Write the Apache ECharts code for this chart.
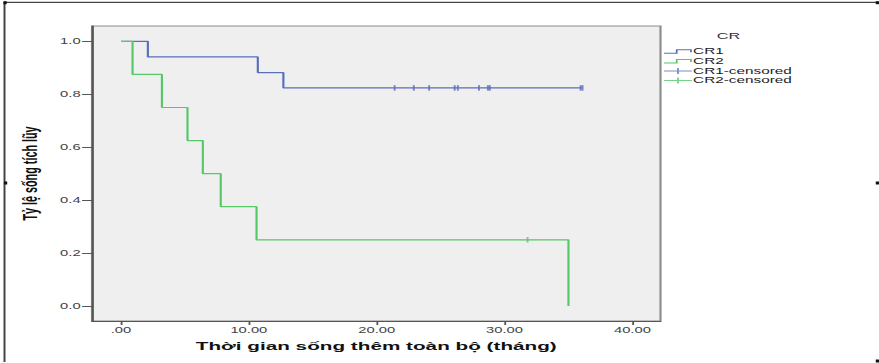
<!DOCTYPE html>
<html>
<head>
<meta charset="utf-8">
<title>Kaplan-Meier CR</title>
<script src="https://cdn.jsdelivr.net/npm/echarts@6/dist/echarts.min.js"></script>
<style>
  html, body { margin: 0; padding: 0; background: #ffffff; overflow: hidden; }
  #wrap { width: 879px; height: 363px; overflow: hidden; }
  /* The chart is laid out narrow and widened horizontally */
  #chart { width: 488px; height: 363px; transform-origin: 0 0; }
</style>
</head>
<body>
<div id="wrap"><div id="chart"></div></div>
<script>
// Survival steps (time in months, cumulative survival)
const cr1Times = [0, 2.1, 10.7, 12.7];
const cr1Surv = [1.0, 0.941, 0.882, 0.824];
const cr1Censored = [21.4, 22.9, 24.1, 26.1, 26.35, 28.0, 28.7, 28.85, 35.95, 36.1];

const cr2Times = [0, 0.9, 3.2, 5.2, 6.4, 7.8, 10.6, 35.0];
const cr2Surv = [1.0, 0.875, 0.75, 0.625, 0.5, 0.375, 0.25, 0.0];
const cr2Censored = [31.8];

const xTicks = [0, 10, 20, 30, 40];
const yTicks = [0, 0.2, 0.4, 0.6, 0.8, 1.0];

const seriesNames = ['CR1', 'CR2', 'CR1-censored', 'CR2-censored'];
const legendTitle = 'CR';
const xTitle = 'Thời gian sống thêm toàn bộ (tháng)';
const yTitle = 'Tỷ lệ sống tích lũy';

const SCALE_X = 879 / 488;
document.getElementById('chart').style.transform = 'scaleX(' + SCALE_X + ')';

const blue = '#5a6fbb';
const green = '#55c868';

function survivalAt(times, surv, t) {
  let s = surv[0];
  for (let i = 0; i < times.length; i++) {
    if (times[i] <= t) s = surv[i];
  }
  return s;
}

function stepData(times, surv, endTime) {
  const pts = times.map((t, i) => [t, surv[i]]);
  if (endTime != null && endTime > times[times.length - 1]) {
    pts.push([endTime, surv[surv.length - 1]]);
  }
  return pts;
}

const cr1Line = stepData(cr1Times, cr1Surv, Math.max.apply(null, cr1Censored));
const cr2Line = stepData(cr2Times, cr2Surv, null);
const cr1Marks = cr1Censored.map(t => [t, survivalAt(cr1Times, cr1Surv, t)]);
const cr2Marks = cr2Censored.map(t => [t, survivalAt(cr2Times, cr2Surv, t)]);

const stepIcon = 'path://M0,3.5L6.6,3.5L6.6,0L15.5,0L15.5,3L14.5,3L14.5,1L7.6,1L7.6,4.5L0,4.5Z';
const censorIcon = 'path://M0,2.5L7.3,2.5L7.3,0L8.3,0L8.3,2.5L15.5,2.5L15.5,3.5L8.3,3.5L8.3,6L7.3,6L7.3,3.5L0,3.5Z';

const font = '"Liberation Sans", Arial, sans-serif';
const frameColor = '#444444';

const chart = echarts.init(document.getElementById('chart'), null, { renderer: 'svg' });

chart.setOption({
  animation: false,
  backgroundColor: '#ffffff',
  textStyle: { fontFamily: font },
  title: {
    text: legendTitle,
    left: 397.9,
    top: 31,
    padding: 0,
    textStyle: { fontFamily: font, fontSize: 9, fontWeight: 'normal', color: '#333333' }
  },
  legend: {
    orient: 'vertical',
    left: 368.6,
    top: 47,
    padding: 0,
    itemGap: 0.7,
    itemWidth: 15.5,
    itemHeight: 6,
    selectedMode: false,
    itemStyle: { borderWidth: 0 },
    textStyle: { fontFamily: font, fontSize: 8.5, lineHeight: 9, color: '#222222', padding: [0, 0, 0, -4.3] },
    data: [
      { name: seriesNames[0], icon: stepIcon },
      { name: seriesNames[1], icon: stepIcon },
      { name: seriesNames[2], icon: censorIcon },
      { name: seriesNames[3], icon: censorIcon }
    ]
  },
  grid: {
    left: 51.08,
    right: 121.3,
    top: 26,
    bottom: 42,
    show: true,
    backgroundColor: '#efefef',
    borderColor: '#8c8c8c',
    borderWidth: 1.2
  },
  xAxis: {
    type: 'value',
    min: -2.27,
    max: 42.2,
    name: xTitle,
    nameLocation: 'middle',
    nameGap: 19.5,
    nameTextStyle: { fontFamily: font, fontSize: 11.5, fontWeight: 'bold', color: '#111111' },
    axisLine: { show: true, onZero: false, lineStyle: { color: '#555555', width: 1.2 } },
    axisTick: { show: true, length: 4, customValues: xTicks, lineStyle: { color: '#555555', width: 1 } },
    axisLabel: {
      customValues: xTicks,
      margin: 5.5,
      fontFamily: font,
      fontSize: 8.2,
      color: '#444444',
      formatter: v => (v === 0 ? '.00' : v.toFixed(2))
    },
    splitLine: { show: false }
  },
  yAxis: {
    type: 'value',
    min: -0.057,
    max: 1.058,
    name: yTitle,
    nameLocation: 'middle',
    nameGap: 20.5,
    nameTextStyle: { fontFamily: font, fontSize: 10.8, fontWeight: 'bold', color: '#111111' },
    axisLine: { show: true, onZero: false, lineStyle: { color: '#555555', width: 1.2 } },
    axisTick: { show: true, length: 5.5, customValues: yTicks, lineStyle: { color: '#555555', width: 1 } },
    axisLabel: {
      customValues: yTicks,
      margin: 6.3,
      fontFamily: font,
      fontSize: 8.2,
      color: '#444444',
      formatter: v => v.toFixed(1)
    },
    splitLine: { show: false }
  },
  series: [
    {
      name: seriesNames[0],
      type: 'line',
      step: 'end',
      data: cr1Line,
      showSymbol: false,
      color: blue,
      lineStyle: { color: blue, width: 1.2 },
      z: 2
    },
    {
      name: seriesNames[1],
      type: 'line',
      step: 'end',
      data: cr2Line,
      showSymbol: false,
      color: green,
      lineStyle: { color: green, width: 1.2 },
      z: 3
    },
    {
      name: seriesNames[2],
      type: 'scatter',
      data: cr1Marks,
      symbol: 'rect',
      symbolSize: [1.1, 5.5],
      color: blue,
      itemStyle: { color: blue },
      z: 4
    },
    {
      name: seriesNames[3],
      type: 'scatter',
      data: cr2Marks,
      symbol: 'rect',
      symbolSize: [1.1, 5.5],
      color: green,
      itemStyle: { color: green },
      z: 4
    }
  ],
  graphic: [
    // outer frame lines and corner handles
    { type: 'line', silent: true, shape: { x1: 2.3, y1: 2.3, x2: 487, y2: 2.3 }, style: { stroke: frameColor, lineWidth: 1.2 } },
    { type: 'line', silent: true, shape: { x1: 2.5, y1: 2, x2: 2.5, y2: 362 }, style: { stroke: frameColor, lineWidth: 1.1 } },
    { type: 'rect', silent: true, shape: { x: 1.9, y: 1.2, width: 1.8, height: 3 }, style: { fill: '#111111' } },
    { type: 'rect', silent: true, shape: { x: 486.2, y: 1.2, width: 1.8, height: 3 }, style: { fill: '#111111' } },
    { type: 'rect', silent: true, shape: { x: 2.2, y: 181.5, width: 1.8, height: 3 }, style: { fill: '#111111' } },
    { type: 'rect', silent: true, shape: { x: 486.2, y: 181.5, width: 1.8, height: 3 }, style: { fill: '#111111' } },
    { type: 'rect', silent: true, shape: { x: 486.2, y: 359.5, width: 1.8, height: 3 }, style: { fill: '#111111' } }
  ]
});
</script>
</body>
</html>
